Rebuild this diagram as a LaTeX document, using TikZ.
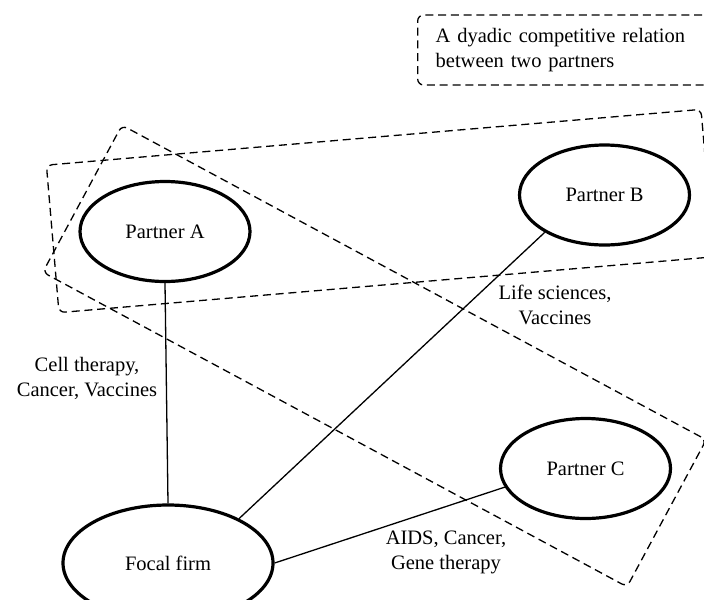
\documentclass[tikz,border=0pt]{standalone}
\usepackage{fontspec}
\setmainfont{Liberation Serif}
\usetikzlibrary{shapes.geometric}

\begin{document}
\begin{tikzpicture}[x=0.5pt, y=-0.5pt, every node/.style={inner sep=1pt, align=center, font=\fontsize{10.25pt}{12.5pt}\selectfont},
		partner/.style={ellipse, draw, line width=1.6pt, minimum width=85pt, minimum height=50pt},
		dyadbox/.style={draw, dash pattern=on 4pt off 2.4pt, line width=0.65pt, rounded corners=3pt}]
			\useasboundingbox (0,0) rectangle (704,599);
			\node[dyadbox, minimum width=328.5pt, minimum height=74pt, rotate=4.87] (dyadAB) at (380,211) {};
			\node[dyadbox, minimum width=331.8pt, minimum height=83.5pt, rotate=-28.3] (dyadAC) at (374.5,356) {};
			\node[dyadbox, anchor=west, align=left, text width=140pt, inner xsep=9pt, minimum height=35pt] (legend) at (417,50) {A dyadic competitive relation\\between two partners};
			
			\node[partner] (A) at (165,231.5) {Partner A};
			\node[partner] (B) at (604.5,195) {Partner B};
			\node[partner] (C) at (585.5,468.5) {Partner C};
			\node[partner, minimum width=105pt, minimum height=58pt] (focal) at (168,563) {Focal firm};
			
			\node (cellcancer) at (87,378) {Cell therapy,\\Cancer, Vaccines};
			\node (lifevacc) at (555,305) {Life sciences,\\Vaccines};
			\node (aidsgene) at (446,552) {AIDS, Cancer,\\Gene therapy};
			
			\foreach \from/\to in {A.south/focal.north,B.212/focal.32,C.193/focal.east}
			\draw[line width=0.65pt] (\from) -- (\to);
			\end{tikzpicture}
\end{document}
